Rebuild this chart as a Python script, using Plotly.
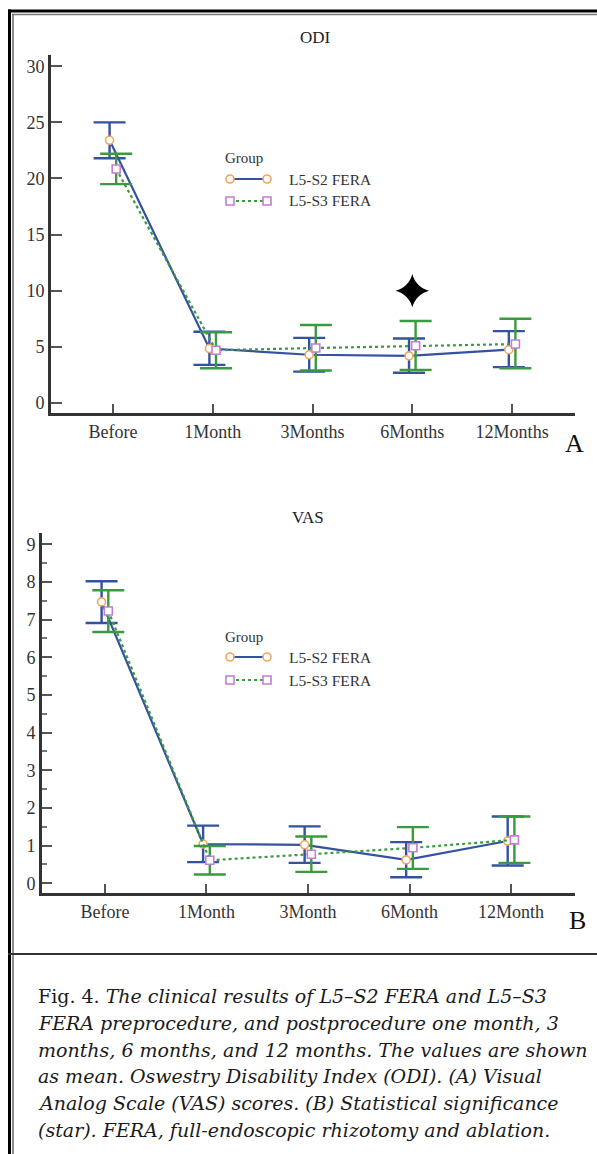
import plotly.graph_objects as go

# ---------------- data ----------------
odi_categories = ["Before", "1Month", "3Months", "6Months", "12Months"]
vas_categories = ["Before", "1Month", "3Month", "6Month", "12Month"]
group_names = ["L5-S2 FERA", "L5-S3 FERA"]

odi_s2_mean = [23.4, 4.85, 4.3, 4.2, 4.75]
odi_s2_upper = [25.0, 6.35, 5.8, 5.75, 6.4]
odi_s2_lower = [21.8, 3.4, 2.8, 2.7, 3.2]
odi_s3_mean = [20.85, 4.7, 4.9, 5.1, 5.25]
odi_s3_upper = [22.2, 6.3, 6.95, 7.3, 7.5]
odi_s3_lower = [19.5, 3.1, 2.9, 2.95, 3.1]

vas_s2_mean = [7.47, 1.04, 1.02, 0.62, 1.12]
vas_s2_upper = [8.02, 1.53, 1.51, 1.09, 1.77]
vas_s2_lower = [6.91, 0.56, 0.54, 0.16, 0.47]
vas_s3_mean = [7.23, 0.61, 0.77, 0.94, 1.15]
vas_s3_upper = [7.78, 0.99, 1.24, 1.49, 1.77]
vas_s3_lower = [6.67, 0.23, 0.30, 0.38, 0.54]

odi_star_category = "6Months"
odi_star_value = 10

caption_lines = [
    "Fig. 4. <i>The clinical results of L5–S2 FERA and L5–S3</i>",
    "<i>FERA preprocedure, and postprocedure one month, 3</i>",
    "<i>months, 6 months, and 12 months. The values are shown</i>",
    "<i>as mean. Oswestry Disability Index (ODI). (A) Visual</i>",
    "<i>Analog Scale (VAS) scores. (B) Statistical significance</i>",
    "<i>(star). FERA, full-endoscopic rhizotomy and ablation.</i>",
]

# ---------------- style ----------------
W, H = 597, 1154
BLUE = "#34529f"
GREEN = "#3a9a3f"
ORANGE = "#f2a45e"
PURPLE = "#c27ed2"
AXIS = "#333333"
SERIF = "Liberation Serif, Times New Roman, serif"
DX = 0.033


def px(x):
    return x / W


def py(y):
    return 1 - y / H


fig = go.Figure()


def add_group(mean, upper, lower, offset, line_color, marker_color, symbol, dash, xa, ya, name):
    xs = [i + offset for i in range(len(mean))]
    fig.add_trace(go.Scatter(
        x=xs, y=mean, mode="lines+markers", name=name, showlegend=False,
        xaxis=xa, yaxis=ya,
        line=dict(color=line_color, width=2.2, dash=dash),
        marker=dict(symbol=symbol, size=8, color="white",
                    line=dict(color=marker_color, width=1.6)),
        error_y=dict(type="data", symmetric=False,
                     array=[u - m for u, m in zip(upper, mean)],
                     arrayminus=[m - l for m, l in zip(mean, lower)],
                     color=line_color, thickness=2.4, width=16),
    ))


add_group(odi_s2_mean, odi_s2_upper, odi_s2_lower, -DX, BLUE, ORANGE, "circle", "solid", "x", "y", group_names[0])
add_group(odi_s3_mean, odi_s3_upper, odi_s3_lower, DX, GREEN, PURPLE, "square", "dot", "x", "y", group_names[1])
add_group(vas_s2_mean, vas_s2_upper, vas_s2_lower, -DX, BLUE, ORANGE, "circle", "solid", "x2", "y2", group_names[0])
add_group(vas_s3_mean, vas_s3_upper, vas_s3_lower, DX, GREEN, PURPLE, "square", "dot", "x2", "y2", group_names[1])

# significance star
fig.add_trace(go.Scatter(
    x=[odi_categories.index(odi_star_category)], y=[odi_star_value],
    mode="markers", showlegend=False, xaxis="x", yaxis="y",
    marker=dict(symbol="star-diamond", size=24, color="black", line=dict(width=0)),
))

axis_common = dict(showline=True, linecolor=AXIS, linewidth=3, showgrid=False, zeroline=False,
                   ticks="inside", tickcolor="#555555", tickwidth=2,
                   tickfont=dict(family=SERIF, size=18, color="#333333"))

fig.update_layout(
    width=W, height=H, margin=dict(l=0, r=0, t=0, b=0, pad=0),
    paper_bgcolor="white", plot_bgcolor="white", showlegend=False,
    xaxis=dict(domain=[px(51), px(575)], range=[-0.62, 4.63], anchor="y",
               tickvals=list(range(len(odi_categories))), ticktext=odi_categories,
               ticklen=9, **axis_common),
    yaxis=dict(domain=[py(413), py(55)], range=[-0.89, 31.0], anchor="x",
               tickvals=[0, 5, 10, 15, 20, 25, 30], ticklen=11, **axis_common),
    xaxis2=dict(domain=[px(42), px(575)], range=[-0.62, 4.63], anchor="y2",
                tickvals=list(range(len(vas_categories))), ticktext=vas_categories,
                ticklen=9, **axis_common),
    yaxis2=dict(domain=[py(893), py(533)], range=[-0.26, 9.3], anchor="x2",
                tickvals=list(range(10)), ticklen=10,
                minor=dict(ticks="inside", tickvals=[v + 0.5 for v in range(9)], ticklen=5,
                           tickcolor="#777777", tickwidth=1.5),
                **axis_common),
)

shapes = []
annotations = []

# frame lines
shapes += [
    dict(type="line", xref="paper", yref="paper", x0=px(8), x1=px(597), y0=py(11), y1=py(11),
         line=dict(color="black", width=3)),
    dict(type="line", xref="paper", yref="paper", x0=px(12), x1=px(597), y0=py(14.5), y1=py(14.5),
         line=dict(color="#777777", width=1.5)),
    dict(type="line", xref="paper", yref="paper", x0=px(9.5), x1=px(9.5), y0=py(9.5), y1=py(1154),
         line=dict(color="black", width=3)),
    dict(type="line", xref="paper", yref="paper", x0=px(13), x1=px(13), y0=py(14), y1=py(1154),
         line=dict(color="#666666", width=1.5)),
    dict(type="line", xref="paper", yref="paper", x0=px(8), x1=px(597), y0=py(954), y1=py(954),
         line=dict(color="#333333", width=2)),
]

# titles and panel letters
annotations += [
    dict(text="ODI", x=px(315), y=py(38), xref="paper", yref="paper", showarrow=False,
         font=dict(family=SERIF, size=17, color="#222222"), xanchor="center", yanchor="middle"),
    dict(text="VAS", x=px(308), y=py(517), xref="paper", yref="paper", showarrow=False,
         font=dict(family=SERIF, size=17, color="#222222"), xanchor="center", yanchor="middle"),
    dict(text="A", x=px(574), y=py(443), xref="paper", yref="paper", showarrow=False,
         font=dict(family=SERIF, size=26, color="#111111"), xanchor="center", yanchor="middle"),
    dict(text="B", x=px(577), y=py(920), xref="paper", yref="paper", showarrow=False,
         font=dict(family=SERIF, size=26, color="#111111"), xanchor="center", yanchor="middle"),
]


# manual legends (symbol at both line ends, as in the original)
def legend(y_group, y1, y2):
    annotations.append(dict(text="Group", x=px(223), y=py(y_group), xref="paper", yref="paper",
                            showarrow=False, xanchor="left", yanchor="middle",
                            font=dict(family=SERIF, size=15, color="#333333")))
    for yy, lc, mc, kind, dash, name in [
        (y1, BLUE, ORANGE, "circle", "solid", group_names[0]),
        (y2, GREEN, PURPLE, "rect", "dot", group_names[1]),
    ]:
        shapes.append(dict(type="line", xref="paper", yref="paper", x0=px(230), x1=px(267),
                           y0=py(yy), y1=py(yy), line=dict(color=lc, width=2.2, dash=dash)))
        for cx in (230, 267):
            shapes.append(dict(type=kind, xref="paper", yref="paper",
                               x0=px(cx - 4), x1=px(cx + 4), y0=py(yy - 4), y1=py(yy + 4),
                               fillcolor="white", line=dict(color=mc, width=1.6)))
        annotations.append(dict(text=name, x=px(287), y=py(yy), xref="paper", yref="paper",
                                showarrow=False, xanchor="left", yanchor="middle",
                                font=dict(family=SERIF, size=15.5, color="#333333")))


legend(158, 179, 201)
legend(637, 657, 680)

# caption
for i, line in enumerate(caption_lines):
    annotations.append(dict(text=line, x=px(36), y=py(996 + i * 26.8), xref="paper", yref="paper",
                            showarrow=False, xanchor="left", yanchor="middle",
                            font=dict(family="DejaVu Serif, serif", size=19, color="#1a1a1a")))

fig.update_layout(shapes=shapes, annotations=annotations)

fig.write_html("out.html", config={"displayModeBar": False},
               post_script="document.body.style.margin='0';document.body.style.padding='0';")
